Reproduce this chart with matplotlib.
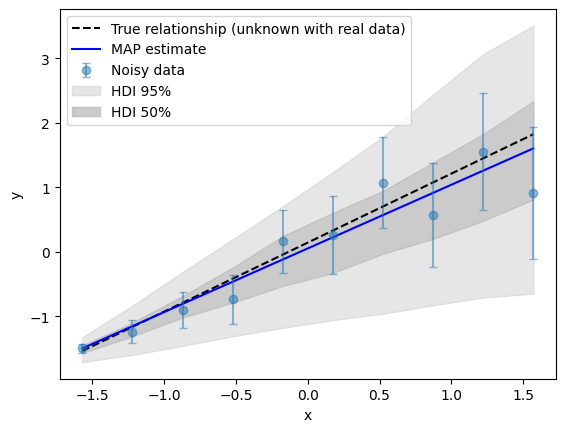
import numpy as np
import matplotlib
matplotlib.use("Agg")
import matplotlib.pyplot as plt

# x positions of the observations
x = np.linspace(-np.pi / 2, np.pi / 2, 10)

y_obs = [-1.50, -1.24, -0.91, -0.74, 0.16, 0.26, 1.07, 0.57, 1.55, 0.91]
y_err = [0.07, 0.18, 0.28, 0.38, 0.49, 0.60, 0.70, 0.81, 0.91, 1.02]

# straight lines, given by their end points
x_line = [-np.pi / 2, np.pi / 2]
y_true = [-1.54, 1.82]
y_map = [-1.50, 1.60]

# HDI bands at each x
hdi95_lo = [-1.71, -1.60, -1.46, -1.31, -1.18, -1.06, -0.96, -0.83, -0.71, -0.65]
hdi95_hi = [-1.33, -0.84, -0.32, 0.19, 0.70, 1.23, 1.78, 2.43, 3.06, 3.50]
hdi50_lo = [-1.57, -1.31, -1.02, -0.79, -0.53, -0.33, -0.03, 0.20, 0.48, 0.81]
hdi50_hi = [-1.46, -1.10, -0.69, -0.25, 0.24, 0.60, 0.94, 1.38, 1.82, 2.33]

fig, ax = plt.subplots(figsize=(6.4, 4.8), dpi=100)

h_true, = ax.plot(x_line, y_true, "k--", label="True relationship (unknown with real data)")
h_map, = ax.plot(x_line, y_map, "b-", label="MAP estimate")
h_obs = ax.errorbar(x, y_obs, yerr=y_err, fmt="o", alpha=0.5, capsize=3, label="Noisy data")
h95 = ax.fill_between(x, hdi95_lo, hdi95_hi, facecolor="#e6e6e6", edgecolor="#dedede",
                      label="HDI 95%", zorder=0)
h50 = ax.fill_between(x, hdi50_lo, hdi50_hi, facecolor="#cbcbcb", edgecolor="#c2c2c2",
                      label="HDI 50%", zorder=0.5)

ax.set_xlabel("x")
ax.set_ylabel("y")
ax.legend(handles=[h_true, h_map, h_obs, h95, h50], loc="upper left")

fig.savefig("out.png", bbox_inches="tight")
